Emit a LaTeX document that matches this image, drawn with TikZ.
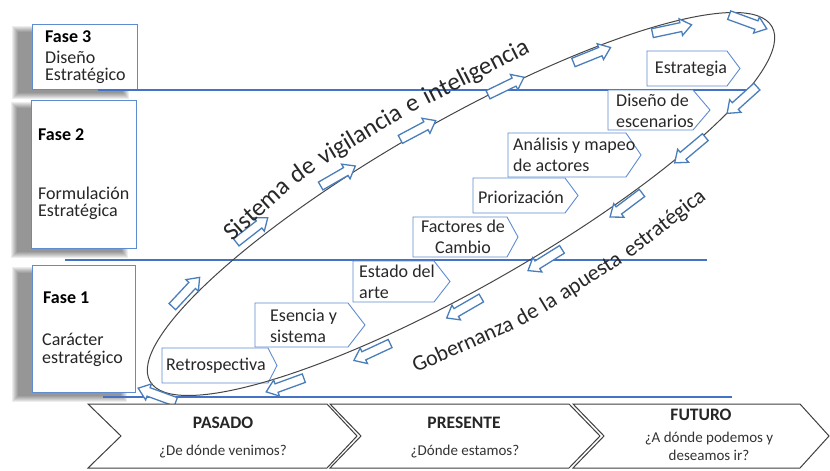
\documentclass[tikz,border=0pt]{standalone}
\usepackage{fontspec}
\setmainfont{Carlito}
\definecolor{lineblue}{RGB}{68,114,196}
\definecolor{boxblue}{RGB}{95,140,208}
\definecolor{arrblue}{RGB}{74,126,187}
\definecolor{txt}{RGB}{40,40,40}
\definecolor{ellgray}{RGB}{70,70,70}
\tikzset{
  phasebox/.style={draw=boxblue, line width=0.9pt, fill=white},
  hline/.style={draw=lineblue, line width=1.8pt},
  stepshape/.style={draw=boxblue, line width=0.9pt, fill=white},
  steptext/.style={font=\fontsize{18}{20.5}\selectfont, text=txt, inner sep=0pt, align=left},
  arrowline/.style={draw=arrblue, fill=white, line width=1.3pt, line join=miter},
  chev/.style={draw=black!75, line width=1pt, fill=white},
  phtext/.style={font=\fontsize{18}{20}\selectfont, text=black!85, inner sep=0pt, anchor=west},
  phbold/.style={font=\bfseries\fontsize{18}{20}\selectfont, text=black, inner sep=0pt, anchor=west},
  chtitle/.style={font=\bfseries\fontsize{17.5}{20}\selectfont, text=black!85, inner sep=0pt},
  chsub/.style={font=\fontsize{15}{18}\selectfont, text=black!80, inner sep=0pt, align=center},
  upword/.style={font=\fontsize{25}{25}\selectfont, text=txt, inner sep=0pt, anchor=base},
  lowword/.style={font=\fontsize{22}{22}\selectfont, text=txt, inner sep=0pt, anchor=base},
}
\newcommand\softshadow[4]{%
  \foreach \k in {0,...,6}{%
    \fill[black, opacity=0.07] (#1-20+\k,#2+2+\k) rectangle (#3-8-\k,#4+10-\k);}}
\newcommand\steppent[5]{%
  \draw[stepshape] (#1,#2) -- (#3-#5,#2) -- (#3,{(#2+#4)/2}) -- (#3-#5,#4) -- (#1,#4) -- cycle;}
\newcommand\chevshape[4]{%
  \draw[chev] (#1,404) -- (#3,404) -- (#4,436) -- (#3,468) -- (#1,468) -- (#2,436) -- cycle;}
\newcommand\flowarrow[3]{%
  \coordinate (#1) at (#2);
  \begin{scope}[shift={(#2)}, rotate=#3]
    \draw[arrowline] (-20,-4.5) -- (9,-4.5) -- (9,-8.5) -- (20,0) -- (9,8.5) -- (9,4.5) -- (-20,4.5) -- cycle;
  \end{scope}}
\begin{document}
\begin{tikzpicture}[x=1pt,y=-1pt]
\useasboundingbox (0,0) rectangle (830,471);
\fill[white] (0,0) rectangle (830,471);

% shadows of the phase boxes
\softshadow{32}{24}{137}{89}
\softshadow{31}{100}{136}{248}
\softshadow{32}{265}{135}{392}

% phase boxes
\draw[phasebox] (32,24) rectangle (137,89);
\draw[phasebox] (31,100) rectangle (136,248);
\draw[phasebox] (32,265) rectangle (135,392);

\node[phbold] (f3a) at (45,37) {Fase 3};
\node[phtext] (f3b) at (45,57) {Diseño};
\node[phtext] (f3c) at (45,76) {Estratégico};
\node[phbold] (f2a) at (38,135) {Fase 2};
\node[phtext] (f2b) at (38,193) {Formulación};
\node[phtext] (f2c) at (38,212) {Estratégica};
\node[phbold] (f1a) at (43,298) {Fase 1};
\node[phtext] (f1b) at (42,339) {Carácter};
\node[phtext] (f1c) at (42,359) {estratégico};

% horizontal lines
\draw[hline] (98,90) -- (757,90);
\draw[hline] (65,260) -- (707,260);
\draw[hline] (103,397) -- (732,397);

% step boxes
\steppent{162}{348}{277}{383}{9}
\steppent{255}{303}{365}{347}{17}
\steppent{353}{261}{450}{302}{16}
\steppent{413}{217}{518}{257}{11}
\steppent{473}{178}{578}{213}{13}
\steppent{508}{133}{641}{177}{15}
\steppent{608}{90}{710}{130}{17}
\steppent{647}{51}{740}{86}{13}

\node[steptext, anchor=west] (s1) at (166,366) {Retrospectiva};
\node[steptext, anchor=west] (s2) at (270,326) {Esencia y\\sistema};
\node[steptext, anchor=west] (s3) at (359,282) {Estado del\\arte};
\node[steptext, align=center] (s4) at (463,237) {Factores de\\Cambio};
\node[steptext] (s5) at (521,197) {Priorización};
\node[steptext, anchor=west] (s6) at (513,155) {Análisis y mapeo\\de actores};
\node[steptext, anchor=west] (s7) at (616,111) {Diseño de\\escenarios};
\node[steptext] (s8) at (691,69) {Estrategia};

% ellipse
\draw[ellgray, line width=1pt, rotate around={29.7:(461,204)}] (461,204) ellipse [x radius=358, y radius=83];

% flow arrows, upper side
\flowarrow{a1}{157,395}{160}
\flowarrow{a2}{186,292}{47}
\flowarrow{a3}{252,230}{38}
\flowarrow{a4}{338,176}{30}
\flowarrow{a5}{418,130}{28}
\flowarrow{a6}{506,86}{26}
\flowarrow{a7}{592,55}{22}
\flowarrow{a8}{672,29}{12}
\flowarrow{a9}{748,22}{-20}
% lower side
\flowarrow{a10}{742,100}{222}
\flowarrow{a11}{690,150}{220}
\flowarrow{a12}{626,205}{217}
\flowarrow{a13}{545,260}{212}
\flowarrow{a14}{464,308}{210}
\flowarrow{a15}{372,352}{205}
\flowarrow{a16}{285,385}{200}

% curved labels, word by word
\node[upword, rotate=42] (u1) at (261.7,215.3) {Sistema};
\node[upword, rotate=36] (u2) at (307.1,176.7) {de};
\node[upword, rotate=31] (u3) at (363.5,141.1) {vigilancia};
\node[upword, rotate=29] (u4) at (415.5,110.3) {e};
\node[upword, rotate=27] (u5) at (479.2,78.4) {inteligencia};

\node[lowword, rotate=24] (g1) at (465.6,350.9) {Gobernanza};
\node[lowword, rotate=29] (g2) at (530.3,320.7) {de};
\node[lowword, rotate=31] (g3) at (552,308.3) {la};
\node[lowword, rotate=33] (g4) at (593.6,281.7) {apuesta};
\node[lowword, rotate=38] (g5) at (668.5,228.5) {estratégica};

% time chevrons
\chevshape{88}{121}{327}{357}
\chevshape{330}{361}{569}{600}
\chevshape{573}{604}{800}{829}

\node[chtitle] (p1) at (223,423) {PASADO};
\node[chsub] (p2) at (223,452) {¿De dónde venimos?};
\node[chtitle] (q1) at (464,423) {PRESENTE};
\node[chsub] (q2) at (465,452) {¿Dónde estamos?};
\node[chtitle] (r1) at (701,415) {FUTURO};
\node[chsub] (r2) at (709,446) {¿A dónde podemos y\\deseamos ir?};
\end{tikzpicture}
\end{document}
